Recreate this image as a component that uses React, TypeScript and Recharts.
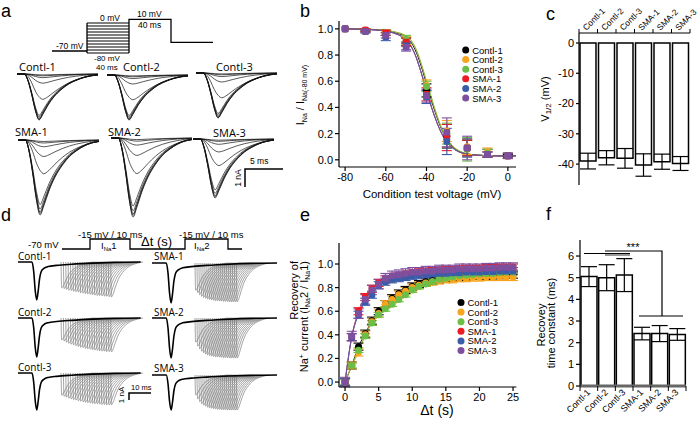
import React from 'react';
import {
  ComposedChart,
  LineChart,
  BarChart,
  Line,
  Bar,
  Scatter,
  XAxis,
  YAxis,
  ErrorBar,
} from 'recharts';

const W = 700;
const H = 421;
const FONT = '"Liberation Sans", Arial, sans-serif';
const TRACE_FONT = '"Open Sans", "Liberation Sans", sans-serif';

const seriesNames = ['Contl-1', 'Contl-2', 'Contl-3', 'SMA-1', 'SMA-2', 'SMA-3'];
const seriesColors = ['#000000', '#f8a41c', '#6cbf46', '#ec1c24', '#3b5ca9', '#7e4f9f'];

// ---- panel a: steady-state inactivation traces ----
const traceTime = [0, 1.0, 1.5, 2.0, 2.5, 3.0, 3.5, 4.2, 5.0, 6.0, 7.0, 8.0, 9.0, 10.0, 11.0];
const fastShape = [0, 0, -0.15, -0.45, -0.8, -1.0, -0.88, -0.68, -0.5, -0.34, -0.22, -0.14, -0.08, -0.04, -0.02];
const slowShape = [0, 0, -0.1, -0.35, -0.68, -0.9, -1.0, -0.9, -0.72, -0.52, -0.36, -0.24, -0.15, -0.08, -0.04];
const contlFractions = [1.0, 0.99, 0.97, 0.94, 0.9, 0.55, 0.2, 0.08, 0.04, 0.02];
const smaFractions = [1.0, 0.98, 0.96, 0.92, 0.86, 0.45, 0.22, 0.09, 0.04, 0.02];

// ---- panel b: inactivation curve ----
const condVoltage = [-80, -70, -60, -50, -40, -30, -20, -10, 0];
const inactC1 = [1.0, 0.99, 0.97, 0.9, 0.53, 0.18, 0.09, 0.05, 0.03];
const inactC2 = [1.0, 0.99, 0.97, 0.91, 0.57, 0.22, 0.1, 0.06, 0.03];
const inactC3 = [1.0, 0.98, 0.97, 0.92, 0.56, 0.2, 0.08, 0.05, 0.03];
const inactS1 = [1.0, 0.99, 0.97, 0.9, 0.5, 0.17, 0.09, 0.04, 0.03];
const inactS2 = [1.0, 0.98, 0.94, 0.87, 0.48, 0.14, 0.09, 0.04, 0.03];
const inactS3 = [1.0, 0.98, 0.95, 0.86, 0.49, 0.21, 0.09, 0.04, 0.03];
const inactErrC1 = [0, 0.01, 0.02, 0.03, 0.05, 0.09, 0.06, 0.03, 0.01];
const inactErrC2 = [0, 0.01, 0.02, 0.03, 0.04, 0.08, 0.06, 0.03, 0.02];
const inactErrC3 = [0, 0.01, 0.02, 0.03, 0.04, 0.08, 0.09, 0.03, 0.02];
const inactErrS1 = [0, 0.01, 0.02, 0.03, 0.05, 0.1, 0.06, 0.02, 0.02];
const inactErrS2 = [0, 0.01, 0.03, 0.03, 0.05, 0.1, 0.07, 0.02, 0.02];
const inactErrS3 = [0, 0.01, 0.02, 0.03, 0.05, 0.11, 0.09, 0.02, 0.02];
const fitVoltage = [-80, -70, -60, -55, -50, -47.5, -45, -42.5, -40, -37.5, -35, -32.5, -30, -27.5, -25, -20, -15, -10, -5, 0, 4];
const fitContl = [1.0, 0.997, 0.985, 0.97, 0.935, 0.895, 0.82, 0.71, 0.58, 0.45, 0.33, 0.23, 0.155, 0.105, 0.075, 0.045, 0.036, 0.032, 0.03, 0.03, 0.03];
const fitContl3 = [1.0, 0.998, 0.988, 0.975, 0.945, 0.91, 0.84, 0.73, 0.6, 0.47, 0.345, 0.24, 0.16, 0.11, 0.078, 0.046, 0.036, 0.032, 0.03, 0.03, 0.03];
const fitSma = [1.0, 0.996, 0.982, 0.962, 0.915, 0.865, 0.78, 0.66, 0.53, 0.4, 0.29, 0.2, 0.135, 0.095, 0.068, 0.043, 0.035, 0.031, 0.03, 0.03, 0.03];

// ---- panel c: V1/2 ----
const halfV = [-39.0, -37.9, -38.1, -40.3, -39.2, -39.8];
const halfVErr = [2.6, 2.35, 3.25, 3.7, 2.5, 2.3];

// ---- panel d: recovery traces ----
const firstTime = [0, 6.5, 7.3, 8.0, 8.7, 9.3, 10.0, 10.8, 12, 14, 18, 25, 35, 45, 57];
const firstShape = [0, 0, -0.25, -0.75, -1.0, -0.8, -0.45, -0.25, -0.17, -0.12, -0.09, -0.06, -0.03, -0.01, 0];
const secondTime = [0, 0.3, 0.9, 2, 3.5, 5.5, 8, 11, 15];
const secondShape = [0, -1, -0.95, -0.75, -0.5, -0.3, -0.15, -0.06, 0];
const contlDelays = [20, 21.1, 22.2, 23.3, 24.4, 25.5, 26.6, 27.7, 28.8, 29.9, 31, 32.1, 33.2, 34.3, 35.4, 36.5, 37.6, 38.7, 39.8, 40.9, 42, 43.1];
const smaDelays = [19.6, 20.5, 21.4, 22.3, 23.2, 24.1, 25, 25.9, 26.8, 27.7, 28.6, 29.5, 30.4, 31.3, 32.2, 33.1, 34, 34.9, 35.8, 36.7, 37.6, 38.5];
const recC1 = [0.68, 0.7, 0.72, 0.74, 0.75, 0.77, 0.78, 0.79, 0.81, 0.82, 0.83, 0.84, 0.85, 0.86, 0.87, 0.88, 0.88, 0.89, 0.9, 0.9, 0.91, 0.92];
const recC2 = [0.56, 0.59, 0.62, 0.65, 0.67, 0.69, 0.71, 0.73, 0.75, 0.76, 0.78, 0.79, 0.8, 0.81, 0.82, 0.83, 0.84, 0.85, 0.85, 0.86, 0.86, 0.87];
const recC3 = [0.6, 0.63, 0.65, 0.68, 0.7, 0.72, 0.73, 0.75, 0.76, 0.78, 0.79, 0.8, 0.81, 0.82, 0.83, 0.83, 0.84, 0.85, 0.85, 0.86, 0.86, 0.86];
const recS1 = [0.68, 0.74, 0.79, 0.83, 0.86, 0.88, 0.9, 0.91, 0.92, 0.93, 0.94, 0.94, 0.95, 0.95, 0.96, 0.96, 0.96, 0.97, 0.97, 0.97, 0.97, 0.97];
const recS2 = [0.6, 0.7, 0.77, 0.83, 0.87, 0.9, 0.92, 0.94, 0.95, 0.96, 0.97, 0.97, 0.98, 0.98, 0.99, 0.99, 0.99, 1.0, 1.0, 1.0, 1.0, 1.0];
const recS3 = [0.57, 0.68, 0.76, 0.82, 0.86, 0.89, 0.92, 0.94, 0.95, 0.96, 0.97, 0.98, 0.98, 0.99, 0.99, 0.99, 1.0, 1.0, 1.0, 1.0, 1.0, 1.0];

// ---- panel e: recovery time course ----
const recoveryTime = [0, 1, 2, 3, 4, 5, 6, 7, 8, 9, 10, 11, 12, 13, 14, 15, 16, 17, 18, 19, 20, 21, 22, 23, 24, 25];
const recovC1 = [0, 0.14, 0.3, 0.41, 0.52, 0.6, 0.66, 0.71, 0.75, 0.78, 0.81, 0.83, 0.85, 0.86, 0.87, 0.88, 0.885, 0.89, 0.895, 0.9, 0.9, 0.9, 0.905, 0.905, 0.91, 0.91];
const recovC2 = [0, 0.14, 0.25, 0.4, 0.51, 0.58, 0.66, 0.7, 0.74, 0.77, 0.8, 0.82, 0.84, 0.85, 0.86, 0.87, 0.87, 0.88, 0.88, 0.885, 0.885, 0.89, 0.89, 0.89, 0.89, 0.89];
const recovC3 = [0, 0.14, 0.27, 0.39, 0.5, 0.57, 0.62, 0.66, 0.7, 0.74, 0.78, 0.81, 0.83, 0.85, 0.87, 0.88, 0.89, 0.9, 0.905, 0.91, 0.915, 0.92, 0.92, 0.925, 0.93, 0.93];
const recovS1 = [0, 0.38, 0.6, 0.72, 0.79, 0.84, 0.87, 0.89, 0.9, 0.91, 0.92, 0.93, 0.935, 0.94, 0.945, 0.95, 0.95, 0.955, 0.96, 0.96, 0.96, 0.965, 0.965, 0.97, 0.97, 0.97];
const recovS2 = [0, 0.38, 0.57, 0.68, 0.74, 0.82, 0.85, 0.87, 0.88, 0.89, 0.9, 0.905, 0.91, 0.915, 0.92, 0.92, 0.925, 0.925, 0.93, 0.93, 0.93, 0.935, 0.935, 0.94, 0.94, 0.94];
const recovS3 = [0, 0.39, 0.58, 0.7, 0.78, 0.83, 0.88, 0.9, 0.91, 0.92, 0.93, 0.93, 0.94, 0.94, 0.95, 0.95, 0.95, 0.96, 0.96, 0.96, 0.96, 0.965, 0.965, 0.97, 0.97, 0.97];
const recovErr = [0.03, 0.03, 0.02, 0.03, 0.03, 0.04];

// ---- panel f: recovery time constant ----
const tauRecovery = [5.05, 5.0, 5.12, 2.42, 2.42, 2.38];
const tauErr = [0.46, 0.6, 0.76, 0.29, 0.37, 0.27];

const abs: React.CSSProperties = { position: 'absolute', left: 0, top: 0 };
const axisLine = { stroke: '#000', strokeWidth: 1.2 };
const tickText = { fontSize: 11, fill: '#000', fontFamily: FONT };

const points = (xs: number[], ys: number[], es?: number[]) =>
  xs.map((x, i) => ({ x, y: ys[i], e: es ? es[i] : 0 }));

const marker = (color: string, square: boolean) => (p: any) =>
  square ? (
    <rect x={p.cx - 3.3} y={p.cy - 3.3} width={6.6} height={6.6} rx={1} fill={color} />
  ) : (
    <circle cx={p.cx} cy={p.cy} r={3.5} fill={color} />
  );

type TraceLine = { data: { t: number; v: number }[]; color: string; width: number };

function TracePanel({ left, right, base, peak, domainX, lines }: {
  left: number; right: number; base: number; peak: number; domainX: [number, number]; lines: TraceLine[];
}) {
  return (
    <div style={abs}>
      <LineChart width={W} height={H} margin={{ left, right: W - right, top: base, bottom: H - peak }}>
        <XAxis hide type="number" dataKey="t" domain={domainX} />
        <YAxis hide type="number" domain={[-1, 0]} />
        {lines.map((l, i) => (
          <Line
            key={i}
            data={l.data}
            dataKey="v"
            type="monotone"
            stroke={l.color}
            strokeWidth={l.width}
            dot={false}
            isAnimationActive={false}
          />
        ))}
      </LineChart>
    </div>
  );
}

const inactivationLines = (fractions: number[]): TraceLine[] =>
  fractions.map((f) => ({
    data: traceTime.map((t, i) => ({ t, v: (f >= 0.8 ? fastShape : slowShape)[i] * f })),
    color: '#111',
    width: 0.7,
  }));

const recoveryLines = (delays: number[], amps: number[]): TraceLine[] => [
  ...delays.map((d, k) => ({
    data: secondTime.map((t, i) => ({ t: d + t, v: secondShape[i] * amps[k] })),
    color: '#737373',
    width: 0.65,
  })),
  { data: firstTime.map((t, i) => ({ t, v: firstShape[i] })), color: '#000', width: 1.6 },
];

const panelA = [
  { left: 17, base: 74, peak: 120, fr: contlFractions },
  { left: 107, base: 75, peak: 120, fr: contlFractions },
  { left: 196, base: 73, peak: 118, fr: contlFractions },
  { left: 18, base: 140, peak: 215, fr: smaFractions },
  { left: 111, base: 138, peak: 217, fr: smaFractions },
  { left: 193, base: 139, peak: 198, fr: smaFractions },
];

const panelD = [
  { left: 18, base: 262, peak: 300, delays: contlDelays, amps: recC1 },
  { left: 18, base: 318, peak: 357, delays: contlDelays, amps: recC2 },
  { left: 18, base: 373, peak: 410, delays: contlDelays, amps: recC3 },
  { left: 152, base: 263, peak: 303, delays: smaDelays, amps: recS1 },
  { left: 152, base: 318, peak: 358, delays: smaDelays, amps: recS2 },
  { left: 152, base: 375, peak: 410, delays: smaDelays, amps: recS3 },
];

function PanelB() {
  const means = [inactC1, inactC2, inactC3, inactS1, inactS2, inactS3];
  const errs = [inactErrC1, inactErrC2, inactErrC3, inactErrS1, inactErrS2, inactErrS3];
  const fits = [fitContl, fitContl3, fitContl3, fitSma, fitSma, fitSma];
  return (
    <div style={abs}>
      <ComposedChart width={W} height={H} margin={{ left: 299, top: 21, right: W - 516, bottom: H - 167 - 30 }}>
        <XAxis type="number" dataKey="x" domain={[-83, 4]} ticks={[-80, -60, -40, -20, 0]} height={30}
          tickSize={4} tickMargin={2} axisLine={axisLine} tickLine={axisLine} tick={tickText} />
        <YAxis type="number" domain={[-0.055, 1.06]} ticks={[0, 0.2, 0.4, 0.6, 0.8, 1]} width={40}
          tickFormatter={(v: number) => v.toFixed(1)} tickSize={4} tickMargin={2}
          axisLine={axisLine} tickLine={axisLine} tick={tickText} />
        {fits.map((f, s) => (
          <Line key={'f' + s} data={points(fitVoltage, f)} dataKey="y" type="monotone" stroke={seriesColors[s]}
            strokeWidth={0.9} dot={false} isAnimationActive={false} />
        ))}
        {means.map((m, s) => (
          <Scatter key={'p' + s} data={points(condVoltage, m, errs[s])} dataKey="y"
            shape={marker(seriesColors[s], s >= 3)} isAnimationActive={false}>
            <ErrorBar dataKey="e" direction="y" width={5} stroke={seriesColors[s]} strokeWidth={1.1} />
          </Scatter>
        ))}
      </ComposedChart>
    </div>
  );
}

const BAND_C = 111 / 6;
const BAND_F = 106 / 6;

function PanelC() {
  const data = seriesNames.map((name, i) => ({ name, v: halfV[i], e: halfVErr[i] }));
  return (
    <div style={abs}>
      <BarChart width={W} height={H} data={data} margin={{ left: 549, top: 3, right: 10, bottom: H - 185 }}>
        <XAxis dataKey="name" orientation="top" height={30} tickSize={0} tickMargin={0} axisLine={axisLine}
          tickLine={false} interval={0}
          tick={(p: any) => (
            <g>
              <line x1={p.x - BAND_C / 2} x2={p.x - BAND_C / 2} y1={p.y} y2={p.y - 4} stroke="#000" strokeWidth={1} />
              {p.index === 5 && (
                <line x1={p.x + BAND_C / 2} x2={p.x + BAND_C / 2} y1={p.y} y2={p.y - 4} stroke="#000" strokeWidth={1} />
              )}
              <text x={p.x - 2} y={p.y - 2} transform={`rotate(-45 ${p.x - 2} ${p.y - 2})`}
                fontSize={8.5} fontFamily={FONT} fill="#000">{p.payload.value}</text>
            </g>
          )} />
        <YAxis type="number" domain={[-46.9, 3.3]} ticks={[0, -10, -20, -30, -40]} width={30} tickSize={3}
          tickMargin={2} axisLine={axisLine} tickLine={axisLine} tick={tickText} />
        <Bar dataKey="v" barSize={16} fill="#fff" stroke="#000" strokeWidth={1.5} isAnimationActive={false}>
          <ErrorBar dataKey="e" width={8} stroke="#000" strokeWidth={1.2} />
        </Bar>
      </BarChart>
    </div>
  );
}

function PanelE() {
  const means = [recovC1, recovC2, recovC3, recovS1, recovS2, recovS3];
  return (
    <div style={abs}>
      <ComposedChart width={W} height={H} margin={{ left: 299, top: 243, right: W - 516.4, bottom: H - 387 - 30 }}>
        <XAxis type="number" dataKey="x" domain={[-0.9, 25.5]} ticks={[0, 5, 10, 15, 20, 25]} height={30}
          tickSize={4} tickMargin={2} axisLine={axisLine} tickLine={axisLine} tick={tickText} />
        <YAxis type="number" domain={[-0.042, 1.178]} ticks={[0, 0.2, 0.4, 0.6, 0.8, 1]} width={40}
          tickFormatter={(v: number) => v.toFixed(1)} tickSize={4} tickMargin={2}
          axisLine={axisLine} tickLine={axisLine} tick={tickText} />
        {means.map((m, s) => (
          <Line key={'l' + s} data={points(recoveryTime, m)} dataKey="y" type="monotone" stroke={seriesColors[s]}
            strokeWidth={0.9} dot={false} isAnimationActive={false} />
        ))}
        {means.map((m, s) => (
          <Scatter key={'p' + s} data={points(recoveryTime, m, m.map(() => recovErr[s]))} dataKey="y"
            shape={marker(seriesColors[s], s >= 3)} isAnimationActive={false}>
            <ErrorBar dataKey="e" direction="y" width={5} stroke={seriesColors[s]} strokeWidth={1.1} />
          </Scatter>
        ))}
      </ComposedChart>
    </div>
  );
}

function PanelF() {
  const data = seriesNames.map((name, i) => ({ name, v: tauRecovery[i], e: tauErr[i] }));
  return (
    <div style={abs}>
      <BarChart width={W} height={H} data={data} margin={{ left: 550, top: 240, right: 14, bottom: 5 }}>
        <XAxis dataKey="name" height={30} tickSize={0} tickMargin={0} axisLine={{ stroke: '#666', strokeWidth: 3 }}
          tickLine={false} interval={0}
          tick={(p: any) => (
            <g>
              <line x1={p.x - BAND_F / 2} x2={p.x - BAND_F / 2} y1={p.y} y2={p.y + 5} stroke="#000" strokeWidth={1} />
              {p.index === 5 && (
                <line x1={p.x + BAND_F / 2} x2={p.x + BAND_F / 2} y1={p.y} y2={p.y + 5} stroke="#000" strokeWidth={1} />
              )}
              <text x={p.x + 2} y={p.y + 7} transform={`rotate(-45 ${p.x + 2} ${p.y + 7})`} textAnchor="end"
                fontSize={9} fontFamily={FONT} fill="#000">{p.payload.value}</text>
            </g>
          )} />
        <YAxis type="number" domain={[0, 6.74]} ticks={[0, 1, 2, 3, 4, 5, 6]} width={30} tickSize={4}
          tickMargin={2} axisLine={axisLine} tickLine={axisLine} tick={tickText} />
        <Bar dataKey="v" barSize={16} fill="#fff" stroke="#000" strokeWidth={1.5} isAnimationActive={false}>
          <ErrorBar dataKey="e" width={8} stroke="#000" strokeWidth={1.2} />
        </Bar>
      </BarChart>
    </div>
  );
}

function Legend({ x, y }: { x: number; y: number }) {
  return (
    <g>
      {seriesNames.map((n, i) => (
        <g key={n}>
          <circle cx={x} cy={y + i * 9.6} r={3.5} fill={seriesColors[i]} />
          <text x={x + 6.5} y={y + i * 9.6 + 3.5} fontSize={9.5} fontFamily={FONT}>{n}</text>
        </g>
      ))}
    </g>
  );
}

function Overlay() {
  const stroke = { stroke: '#000', fill: 'none', strokeWidth: 1.3 };
  const small = { fontSize: 8.5, fontFamily: FONT };
  const boxLevels = [23, 26, 29, 32, 35, 38, 41, 44, 47, 50, 53];
  return (
    <svg width={W} height={H} style={{ ...abs, pointerEvents: 'none' }}>
      {/* panel letters */}
      <g fontSize={18} fontFamily={FONT}>
        <text x={1} y={17}>a</text>
        <text x={300} y={17}>b</text>
        <text x={546} y={20}>c</text>
        <text x={1} y={221}>d</text>
        <text x={300} y={221}>e</text>
        <text x={546} y={220}>f</text>
      </g>

      {/* a: protocol */}
      <path d="M52 51 H87" {...stroke} />
      {boxLevels.map((y) => <path key={y} d={`M87 ${y} H129`} {...stroke} strokeWidth={1} />)}
      <path d="M87 23 V53 M129 53 V19.3 H171 V42.3 H213" {...stroke} />
      <text x={110} y={21} textAnchor="middle" {...small}>0 mV</text>
      <text x={137} y={17} {...small}>10 mV</text>
      <text x={138} y={28} {...small}>40 ms</text>
      <text x={56} y={49} {...small}>-70 mV</text>
      <text x={94} y={61} fontSize={8} fontFamily={FONT}>-80 mV</text>
      <text x={96} y={70} fontSize={8} fontFamily={FONT}>40 ms</text>
      <g fontSize={11} fontFamily={TRACE_FONT}>
        <text x={19} y={71}>Contl-1</text>
        <text x={123} y={71}>Contl-2</text>
        <text x={216} y={71}>Contl-3</text>
        <text x={15} y={136}>SMA-1</text>
        <text x={108} y={136}>SMA-2</text>
        <text x={213} y={137}>SMA-3</text>
      </g>
      <path d="M245 187 V169 H283" {...stroke} strokeWidth={1.5} />
      <text x={250} y={164} {...small}>5 ms</text>
      <text x={241} y={178} transform="rotate(-90 241 178)" textAnchor="middle" {...small}>1 nA</text>

      {/* b: titles + legend */}
      <text x={432} y={198} textAnchor="middle" fontSize={11.5} fontFamily={FONT}>Condition test voltage (mV)</text>
      <text x={304} y={95} transform="rotate(-90 304 95)" textAnchor="middle" fontSize={11} fontFamily={FONT}>
        <tspan>I</tspan><tspan fontSize={7} dy={3}>Na</tspan><tspan dy={-3}> / I</tspan>
        <tspan fontSize={7} dy={3}>Na(-80 mV)</tspan>
      </text>
      <Legend x={465.7} y={50} />

      {/* c: title */}
      <text x={549} y={99} transform="rotate(-90 549 99)" textAnchor="middle" fontSize={11} fontFamily={FONT}>
        <tspan>V</tspan><tspan fontSize={8} dy={2}>1/2</tspan><tspan dy={-2}> (mV)</tspan>
      </text>

      {/* d: protocol */}
      <path d="M62 249 H90 V239 H130 V249 H185 V239 H228 V249 H242" {...stroke} />
      <g fontSize={9.5} fontFamily={FONT}>
        <text x={28} y={248}>-70 mV</text>
        <text x={78} y={238}>-15 mV / 10 ms</text>
        <text x={179} y={238}>-15 mV / 10 ms</text>
        <text x={101} y={249}>I<tspan fontSize={6} dy={2}>Na</tspan><tspan dy={-2}>1</tspan></text>
        <text x={194} y={249}>I<tspan fontSize={6} dy={2}>Na</tspan><tspan dy={-2}>2</tspan></text>
      </g>
      <text x={141} y={246} fontSize={13} fontFamily={FONT}>Δt (s)</text>
      <g fontSize={10} fontFamily={TRACE_FONT}>
        <text x={18} y={260}>Contl-1</text>
        <text x={18} y={316}>Contl-2</text>
        <text x={18} y={371}>Contl-3</text>
        <text x={154} y={260}>SMA-1</text>
        <text x={154} y={316}>SMA-2</text>
        <text x={154} y={372}>SMA-3</text>
      </g>
      <path d="M129 400 V393 H151" {...stroke} strokeWidth={1.5} />
      <text x={131} y={390} fontSize={7.5} fontFamily={FONT}>10 ms</text>
      <text x={124} y={395} transform="rotate(-90 124 395)" textAnchor="middle" fontSize={8} fontFamily={FONT}>1 nA</text>

      {/* e: titles + legend */}
      <text x={437} y={415} textAnchor="middle" fontSize={14} fontFamily={FONT}>Δt (s)</text>
      <text x={298} y={261} transform="rotate(-90 298 261)" textAnchor="end" fontSize={11} fontFamily={FONT}>Recovery of</text>
      <text x={308} y={261} transform="rotate(-90 308 261)" textAnchor="end" fontSize={11} fontFamily={FONT}>
        <tspan>Na</tspan><tspan fontSize={7} dy={-4}>+</tspan><tspan dy={4}> current (I</tspan>
        <tspan fontSize={7} dy={2}>Na</tspan><tspan dy={-2}>2 / I</tspan><tspan fontSize={7} dy={2}>Na</tspan>
        <tspan dy={-2}>1)</tspan>
      </text>
      <Legend x={461} y={302.5} />

      {/* f: titles + significance */}
      <text x={545} y={325} transform="rotate(-90 545 325)" textAnchor="middle" fontSize={11} fontFamily={FONT}>Recovey</text>
      <text x={555} y={323} transform="rotate(-90 555 323)" textAnchor="middle" fontSize={11} fontFamily={FONT}>time constant (ms)</text>
      <rect x={605} y={253} width={25} height={3} fill="#999" />
      <path d="M584 253.5 H630 M605 251 H662 V316 M639 316 H683" {...stroke} strokeWidth={1.2} />
      <text x={633} y={251} textAnchor="middle" fontSize={11} fontFamily={FONT}>***</text>
    </svg>
  );
}

export default function App() {
  return (
    <div style={{ position: 'absolute', left: 0, top: 0, width: W, height: H, background: '#fff', overflow: 'hidden' }}>
      {panelA.map((p, i) => (
        <TracePanel key={'a' + i} left={p.left} right={p.left + 81} base={p.base} peak={p.peak}
          domainX={[0, 11]} lines={inactivationLines(p.fr)} />
      ))}
      {panelD.map((p, i) => (
        <TracePanel key={'d' + i} left={p.left} right={p.left + 125} base={p.base} peak={p.peak}
          domainX={[0, 57]} lines={recoveryLines(p.delays, p.amps)} />
      ))}
      <PanelB />
      <PanelC />
      <PanelE />
      <PanelF />
      <Overlay />
    </div>
  );
}
